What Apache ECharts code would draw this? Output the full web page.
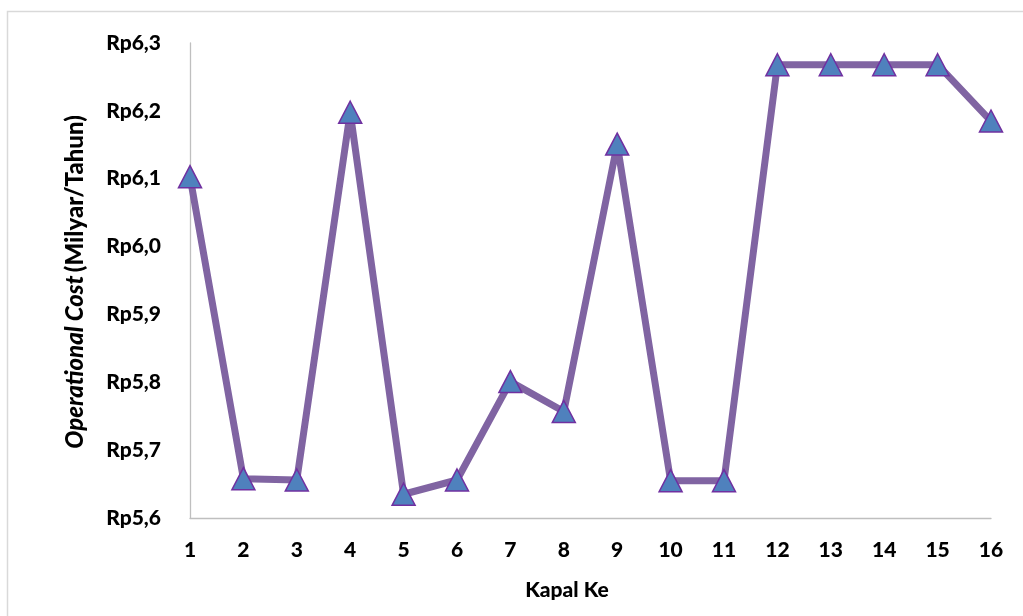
<!DOCTYPE html>
<html>
<head>
<meta charset="utf-8">
<script src="https://cdn.jsdelivr.net/npm/echarts@6/dist/echarts.min.js"></script>
<style>
  html, body { margin: 0; padding: 0; background: #fff; }
  #main { width: 1023px; height: 616px; }
</style>
</head>
<body>
<div id="main"></div>
<script>
var kapal = ['1', '2', '3', '4', '5', '6', '7', '8', '9', '10', '11', '12', '13', '14', '15', '16'];
var biaya = [6.103, 5.658, 5.656, 6.198, 5.635, 5.656, 5.801, 5.757, 6.151, 5.655, 5.655, 6.268, 6.268, 6.268, 6.268, 6.185];
var yMin = 5.6, yMax = 6.3, yStep = 0.1;

var myChart = echarts.init(document.getElementById('main'));
var font = 'Lato, "Open Sans", sans-serif';

var option = {
    animation: false,
    backgroundColor: '#fff',
    grid: {
        left: 190,
        right: 32,
        top: 43,
        bottom: 98
    },
    xAxis: {
        type: 'category',
        data: kapal,
        boundaryGap: false,
        axisLine: { lineStyle: { color: '#BFBFBF', width: 1.3 } },
        axisTick: { show: false },
        axisLabel: {
            color: '#000',
            fontFamily: font,
            fontWeight: 900,
            fontSize: 21,
            margin: 22
        },
        splitLine: { show: false }
    },
    yAxis: {
        type: 'value',
        min: yMin,
        max: yMax,
        interval: yStep,
        axisLine: { show: true, lineStyle: { color: '#BFBFBF', width: 1.3 } },
        axisTick: { show: false },
        splitLine: { show: false },
        axisLabel: {
            color: '#000',
            fontFamily: font,
            fontWeight: 900,
            fontSize: 21,
            margin: 29,
            formatter: function (v) {
                return 'Rp' + v.toFixed(1).replace('.', ',');
            }
        }
    },
    graphic: [
        {
            type: 'rect',
            shape: { x: 7.5, y: 11.5, width: 1040, height: 640 },
            style: { fill: 'none', stroke: '#D9D9D9', lineWidth: 1.5 },
            z: -10
        },
        {
            type: 'text',
            x: 567,
            y: 590,
            style: {
                text: 'Kapal Ke',
                fill: '#000',
                font: '900 21px ' + font,
                align: 'center',
                verticalAlign: 'middle'
            }
        },
        {
            type: 'text',
            x: 75,
            y: 282,
            rotation: Math.PI / 2,
            style: {
                text: '{i|Operational Cost} {n|(Milyar/Tahun)}',
                align: 'center',
                verticalAlign: 'middle',
                rich: {
                    i: { fontFamily: font, fontWeight: 900, fontStyle: 'italic', fontSize: 24, fill: '#000' },
                    n: { fontFamily: font, fontWeight: 900, fontSize: 24, fill: '#000' }
                }
            }
        }
    ],
    series: [
        {
            type: 'line',
            data: biaya,
            lineStyle: { color: '#8064A2', width: 7 },
            symbol: 'triangle',
            symbolSize: [23, 22],
            itemStyle: {
                color: '#4F81BD',
                borderColor: '#7030A0',
                borderWidth: 1.5
            }
        }
    ]
};

myChart.setOption(option);
</script>
</body>
</html>
